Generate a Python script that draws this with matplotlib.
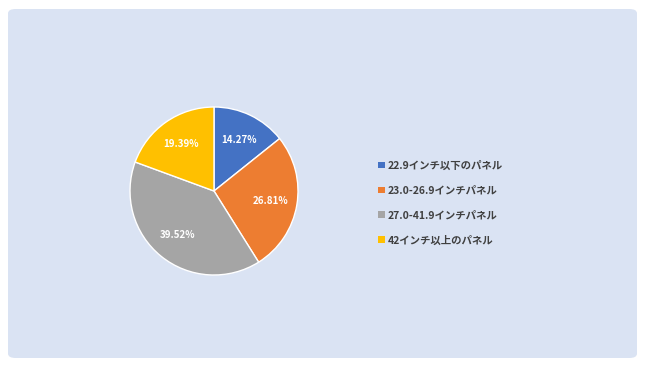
import matplotlib
matplotlib.use("Agg")
import matplotlib.pyplot as plt
from matplotlib.patches import FancyBboxPatch, Patch

plt.rcParams['font.family'] = ['Noto Sans CJK JP', 'DejaVu Sans']

categories = ["22.9インチ以下のパネル", "23.0-26.9インチパネル", "27.0-41.9インチパネル", "42インチ以上のパネル"]
shares = [14.27, 26.81, 39.52, 19.39]
colors = ["#4472c4", "#ed7d31", "#a5a5a5", "#ffc000"]

W, H = 650, 366
fig = plt.figure(figsize=(W / 100, H / 100), dpi=100)
fig.patch.set_facecolor("white")

# rounded panel behind the chart
panel = FancyBboxPatch((8 / W, 8 / H), 629 / W, 349 / H,
                       boxstyle="round,pad=0,rounding_size=0.012",
                       transform=fig.transFigure, facecolor="#dae3f3",
                       edgecolor="none", zorder=-5)
fig.patches.append(panel)

# pie axes: centre (214,191), radius ~84 px
r = 84
cx, cy = 214, 191
ax = fig.add_axes([(cx - r) / W, 1 - (cy + r) / H, 2 * r / W, 2 * r / H])
ax.set_zorder(2)
ax.set_facecolor("none")
wedges, texts, autotexts = ax.pie(
    shares, colors=colors, startangle=90, counterclock=False,
    autopct=lambda p: f"{p:.2f}%", pctdistance=0.68,
    wedgeprops=dict(edgecolor="white", linewidth=1.0),
    textprops=dict(color="white", fontsize=7, fontweight="bold"))
ax.set_xlim(-1, 1)
ax.set_ylim(-1, 1)
ax.set_aspect("equal")
ax.axis("off")

handles = [Patch(facecolor=c, edgecolor="none") for c in colors]
leg = fig.legend(handles, categories, loc="center left",
                 bbox_to_anchor=(369 / W, 1 - 203 / H), frameon=False,
                 fontsize=7.5, labelspacing=1.42, handlelength=0.6,
                 handleheight=0.6, handletextpad=0.3, labelcolor="#404040")
leg.set_zorder(3)
for t in leg.get_texts():
    t.set_fontweight("bold")

fig.savefig("out.png", dpi=100, facecolor="white")
